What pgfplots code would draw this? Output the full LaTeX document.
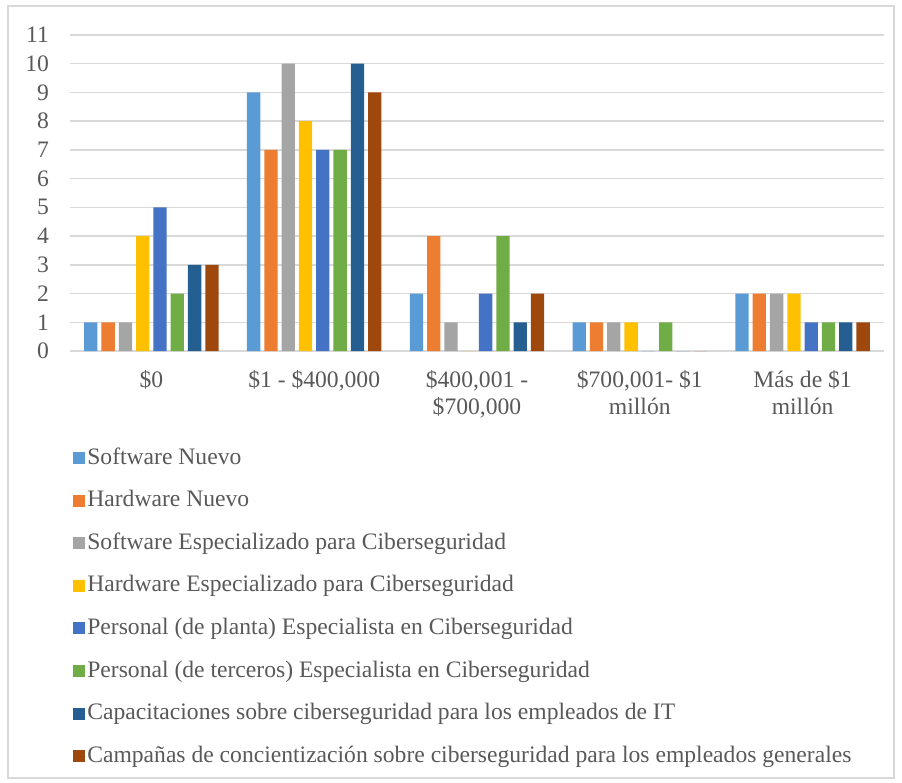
\documentclass[border=0pt]{standalone}
\usepackage{fontspec}
\setmainfont{Liberation Serif}
\usepackage{pgfplots}
\pgfplotsset{compat=1.18}

\definecolor{c1}{HTML}{5B9BD5}
\definecolor{c2}{HTML}{ED7D31}
\definecolor{c3}{HTML}{A5A5A5}
\definecolor{c4}{HTML}{FFC000}
\definecolor{c5}{HTML}{4472C4}
\definecolor{c6}{HTML}{70AD47}
\definecolor{c7}{HTML}{255E91}
\definecolor{c8}{HTML}{9E480E}
\definecolor{txt}{HTML}{595959}
\definecolor{grd}{HTML}{D9D9D9}

\begin{document}
\begin{tikzpicture}[x=1pt,y=1pt]
\useasboundingbox (0,0) rectangle (451,391.5);
\draw[grd, line width=0.75pt] (4,2.5) rectangle (447,388.5);
\begin{axis}[
    at={(35pt,216pt)}, anchor=south west,
    scale only axis, width=407pt, height=158pt,
    ybar=2pt, bar width=6.65pt,
    xmin=-0.5, xmax=4.5, ymin=0, ymax=11,
    xtick={0,1,2,3,4},
    xticklabels={\$0, \$1 - \$400{,}000, {\$400{,}001 -\\\$700{,}000}, {\$700{,}001- \$1\\millón}, {Más de \$1\\millón}},
    ytick={0,1,...,11},
    ymajorgrids, grid style={grd, line width=0.75pt},
    axis line style={draw=none},
    major tick length=0pt,
    tick label style={font=\fontsize{11.8}{13.5}\selectfont, text=txt},
    xticklabel style={align=center, yshift=-6pt},
    yticklabel style={xshift=-7pt},
    /pgf/number format/assume math mode=true,
    legend cell align=left,
    legend style={draw=none, fill=none, at={(-0.004,-0.287)}, anchor=north west,
        font=\fontsize{11.8}{12}\selectfont, text=txt, row sep=9.3pt,
        nodes={inner sep=0.5pt, text height=8.5pt, text depth=2.5pt}},
    legend image code/.code={\path (0pt,0pt) -- (6.6pt,0pt); \fill[#1] (0pt,-3pt) rectangle (6pt,3pt);},
]
\addplot[fill=c1, draw=none] coordinates {(0,1) (1,9) (2,2) (3,1) (4,2)};
\addplot[fill=c2, draw=none] coordinates {(0,1) (1,7) (2,4) (3,1) (4,2)};
\addplot[fill=c3, draw=none] coordinates {(0,1) (1,10) (2,1) (3,1) (4,2)};
\addplot[fill=c4, draw=none] coordinates {(0,4) (1,8) (2,0) (3,1) (4,2)};
\addplot[fill=c5, draw=none] coordinates {(0,5) (1,7) (2,2) (3,0) (4,1)};
\addplot[fill=c6, draw=none] coordinates {(0,2) (1,7) (2,4) (3,1) (4,1)};
\addplot[fill=c7, draw=none] coordinates {(0,3) (1,10) (2,1) (3,0) (4,1)};
\addplot[fill=c8, draw=none] coordinates {(0,3) (1,9) (2,2) (3,0) (4,1)};
\legend{Software Nuevo, Hardware Nuevo, Software Especializado para Ciberseguridad, Hardware Especializado para Ciberseguridad, Personal (de planta) Especialista en Ciberseguridad, Personal (de terceros) Especialista en Ciberseguridad, Capacitaciones sobre ciberseguridad para los empleados de IT, Campañas de concientización sobre ciberseguridad para los empleados generales}
\end{axis}
\end{tikzpicture}
\end{document}
